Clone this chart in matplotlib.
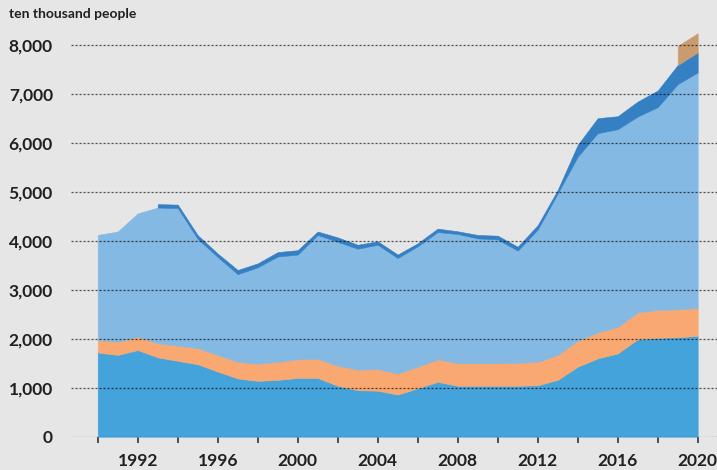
import numpy as np
import matplotlib
matplotlib.use("Agg")
import matplotlib.pyplot as plt

nan = np.nan
years = list(range(1990, 2021))
bottom_blue = [1720, 1670, 1770, 1620, 1550, 1480, 1330, 1190, 1140, 1160, 1200,
               1200, 1040, 950, 940, 860, 990, 1120, 1040, 1040, 1040,
               1040, 1050, 1160, 1430, 1600, 1700, 1990, 2020, 2030, 2060]
orange = [260, 270, 270, 290, 310, 330, 340, 340, 350, 370, 380,
          390, 410, 420, 440, 430, 440, 460, 460, 460, 460,
          470, 480, 510, 530, 530, 540, 550, 570, 570, 570]
light_blue = [2140, 2250, 2520, 2770, 2810, 2230, 2000, 1790, 1970, 2150, 2140,
              2530, 2530, 2470, 2540, 2360, 2460, 2600, 2640, 2550, 2530,
              2290, 2700, 3300, 3760, 4070, 4040, 4000, 4140, 4600, 4810]
dark_blue = [nan, nan, nan, 70, 70, 75, 70, 85, 80, 90, 90,
             70, 90, 80, 70, 70, 60, 70, 55, 70, 75,
             80, 90, 70, 240, 305, 265, 305, 340, 390, 410]
tan = [nan] * 29 + [390, 390]

y_ticks = [0, 1000, 2000, 3000, 4000, 5000, 6000, 7000, 8000]
y_labels = ["0", "1,000", "2,000", "3,000", "4,000", "5,000", "6,000", "7,000", "8,000"]
x_ticks = list(range(1990, 2021, 2))
x_labels = [str(y) if (y - 1992) % 4 == 0 else "" for y in x_ticks]
unit_label = "ten thousand people"

colors = ["#45a3db", "#f8a870", "#83b9e3", "#357fc3", "#c99c70"]
BG = "#e6e6e6"
TXT = "#231f20"
FONT = ["Lato", "DejaVu Sans"]

x = np.array(years, dtype=float)
layers = [np.array(v, dtype=float) for v in (bottom_blue, orange, light_blue, dark_blue, tan)]

fig = plt.figure(figsize=(7.17, 4.70), dpi=100, facecolor=BG)
ax = fig.add_axes([71 / 717, (470 - 436.7) / 470, 1 - 71 / 717, (436.7 - 25.4) / 470])
ax.set_facecolor(BG)

base = np.zeros_like(x)
for vals, c in zip(layers, colors):
    top = base + vals
    ax.fill_between(x, base, top, facecolor=c, edgecolor=c, linewidth=0.4, zorder=2)
    base = np.where(np.isnan(top), base, top)

ax.set_xlim(1988.665, 2020.965)
ax.set_ylim(0, 8400)

for yv in y_ticks:
    ax.axhline(yv, color="black", alpha=0.65, linewidth=0.9,
               linestyle=(0, (1.7, 1.5)), zorder=3)

ax.set_yticks(y_ticks)
ax.set_yticklabels(y_labels)
ax.set_xticks(x_ticks)
ax.set_xticklabels(x_labels)
ax.tick_params(axis="y", length=0, pad=13)
ax.tick_params(axis="x", length=4, width=1.2, color="#333333", pad=8, direction="out")
for lab in ax.get_xticklabels() + ax.get_yticklabels():
    lab.set_fontfamily(FONT)
    lab.set_fontweight("bold")
    lab.set_fontsize(12.5)
    lab.set_color(TXT)

for s in ax.spines.values():
    s.set_visible(False)

fig.text(9 / 717, 1 - 14 / 470, unit_label, ha="left", va="center",
         fontsize=10, fontweight="bold", family=FONT, color=TXT)

fig.savefig("out.png", dpi=100, facecolor=BG)
